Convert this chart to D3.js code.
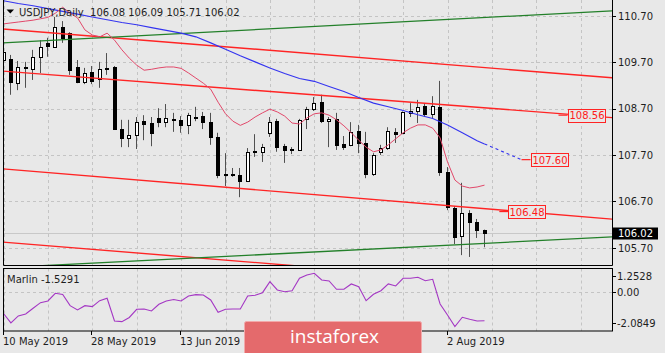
<!DOCTYPE html>
<html>
<head>
<meta charset="utf-8">
<script src="https://cdn.jsdelivr.net/npm/d3@7"></script>
<style>
  body { margin: 0; background: #e8e8e8; }
  svg { display: block; font-family: "DejaVu Sans", sans-serif; }
</style>
</head>
<body>
<div class="main-container"></div>
<script>
// USDJPY daily, 10 May 2019 - 9 Aug 2019 (bar 0 = 10 May)
const open  = [109.75,109.77,109.25,109.60,109.56,109.82,110.12,110.03,110.46,110.33,
               109.60,109.28,109.49,109.34,109.58,109.60,108.26,108.07,108.13,108.43,
               108.39,108.50,108.41,108.48,108.46,108.35,108.52,108.54,108.41,108.09,
               107.29,107.29,107.27,107.14,107.79,107.77,108.18,108.43,107.89,107.81,
               107.81,108.48,108.69,108.84,108.43,108.48,107.94,107.92,108.22,107.96,
               107.29,107.77,107.85,108.20,108.18,108.61,108.65,108.76,108.59,108.74,
               107.33,106.56,105.95,106.45,106.25,106.08];
const high  = [110.07,109.86,109.73,109.71,109.97,110.18,110.23,110.68,110.59,110.35,
               109.75,109.58,109.62,109.71,109.90,109.62,108.46,108.46,108.52,108.56,
               108.52,108.71,108.80,108.61,108.54,108.61,108.74,108.63,108.61,108.18,
               107.74,107.42,107.42,107.85,108.15,107.94,108.52,108.48,107.94,107.87,
               108.48,108.74,108.95,109.00,108.52,108.61,108.11,108.41,108.35,108.20,
               107.74,107.92,108.30,108.28,108.64,108.82,108.89,108.82,108.97,109.30,
               107.44,106.60,107.10,106.51,106.32,106.09];
const low   = [109.43,109.00,109.10,109.15,109.32,109.47,109.82,110.01,110.12,109.43,
               109.25,109.23,109.23,109.15,109.43,108.24,107.87,107.87,107.83,108.02,
               107.89,108.30,108.30,108.20,108.18,108.15,108.43,108.26,107.92,107.20,
               107.03,107.23,106.79,107.12,107.66,107.55,108.09,107.77,107.53,107.72,
               107.79,108.26,108.65,108.39,107.87,107.81,107.81,107.89,107.74,107.20,
               107.25,107.70,107.81,107.96,108.15,108.52,108.39,108.52,108.48,107.25,
               106.51,105.78,105.54,105.50,105.91,105.71];
const close = [109.92,109.28,109.60,109.58,109.82,110.03,110.05,110.46,110.23,109.53,
               109.28,109.47,109.30,109.56,109.56,108.26,108.07,108.13,108.41,108.37,
               108.18,108.41,108.50,108.47,108.35,108.56,108.51,108.41,108.09,107.27,
               107.28,107.30,107.14,107.77,107.78,107.87,108.41,107.87,107.81,107.83,
               108.46,108.69,108.82,108.43,108.48,107.92,107.87,108.20,107.96,107.29,
               107.70,107.85,108.22,108.15,108.63,108.65,108.74,108.59,108.76,107.33,
               106.58,105.93,106.45,106.25,106.08,106.02];

// fast MA (thin crimson)
const fastMa = [110.53,110.55,110.57,110.59,110.61,110.64,110.67,110.76,110.89,110.76,
                110.66,110.40,110.29,110.25,110.33,110.18,109.97,109.79,109.64,109.53,
                109.55,109.58,109.60,109.60,109.57,109.47,109.36,109.25,109.12,108.84,
                108.59,108.43,108.34,108.41,108.52,108.61,108.69,108.63,108.54,108.39,
                108.37,108.50,108.59,108.61,108.56,108.46,108.33,108.18,108.02,107.87,
                107.77,107.81,107.92,108.05,108.18,108.28,108.35,108.35,108.28,108.07,
                107.55,107.16,107.03,106.99,107.01,107.05];

// slow MA (blue), read every second bar
const slowBars = [0,2,4,6,8,10,12,14,16,18,20,22,24,26,28,30,32,34,36,38,40,42,44,46,48,50,52,54,56,58,60,62,64,65];
const slowMa   = [111.03,110.97,110.92,110.86,110.80,110.74,110.68,110.62,110.56,110.51,
                  110.45,110.39,110.33,110.25,110.12,109.98,109.84,109.71,109.58,109.46,
                  109.35,109.29,109.18,109.07,108.94,108.82,108.74,108.66,108.57,108.49,
                  108.35,108.18,108.01,107.94];
const projBars = [65, 70];
const projVals = [107.94, 107.60];

// channel lines: price at bar 0 and bar 82
const lineBars = [0, 82];
const redLines = [[110.42, 109.37], [109.51, 108.51], [107.40, 106.32], [105.82, 104.76]];
const greenLines = [[110.12, 110.81], [105.27, 105.93]];

const tagPrices = [108.56, 107.60, 106.48];
const tagBars = [75, 70, 67];
const lastPrice = 106.02;

const marlin = [-1.141,-1.652,-1.276,-1.168,-0.861,-0.560,-0.468,-0.054,-0.118,-0.721,
                -0.953,-0.721,-0.775,-0.452,-0.323,-1.545,-1.582,-1.356,-0.915,-0.899,
                -1.006,-0.646,-0.468,-0.388,-0.468,-0.199,-0.129,-0.145,-0.414,-1.076,
                -0.915,-0.899,-0.899,-0.199,-0.161,-0.022,0.571,0.124,0.032,0.086,
                0.753,0.931,1.023,0.662,0.608,0.161,0.161,0.447,0.301,-0.452,
                -0.108,0.081,0.447,0.339,0.753,0.753,0.807,0.624,0.700,-0.630,
                -1.222,-1.851,-1.346,-1.453,-1.545,-1.5291];

const priceTicks = [110.70, 109.70, 108.70, 107.70, 106.70, 105.70];
const marlinTicks = [1.2528, 0.00, -2.0849];
const marlinLabels = ["1.2528", "0.00", "-2.0849"];
// the 1 Jul / 17 Jul labels sit under the watermark and are not visible
const dateBars = [0, 12, 24, 60];
const dateLabels = ["10 May 2019", "28 May 2019", "13 Jun 2019", "2 Aug 2019"];

let width = 665, height = 353;
const L = 3, R = 612, mainBottom = 265.5, subTop = 268.5, subBottom = 331;

const x = d3.scaleLinear().domain([0, 82]).range([3.5, 3.5 + 82 * 7.4]);
const y = d3.scaleLinear().domain([105.70, 110.70]).range([247.7, 16]);
const ym = d3.scaleLinear().domain([-2.0849, 1.2528]).range([331, 269]);

const svg = d3.select(".main-container")
  .append("svg")
  .attr("width", width)
  .attr("height", height);

svg.append("rect").attr("width", width).attr("height", height).attr("fill", "#e8e8e8");

const defs = svg.append("defs");
defs.append("clipPath").attr("id", "clip-main")
  .append("rect").attr("x", L).attr("y", 0).attr("width", R - L).attr("height", mainBottom);
defs.append("clipPath").attr("id", "clip-sub")
  .append("rect").attr("x", L).attr("y", subTop).attr("width", R - L).attr("height", subBottom - subTop);

const main = svg.append("g").attr("clip-path", "url(#clip-main)");
const sub = svg.append("g").attr("clip-path", "url(#clip-sub)");

// grid
const gridBars = d3.range(0, 83, 6);
const gridStyle = sel => sel.attr("stroke", "#c4c4c4").attr("stroke-dasharray", "3,3").attr("stroke-width", 1);

main.selectAll("line.vgrid").data(gridBars).join("line")
  .attr("x1", d => Math.round(x(d)) + 0.5).attr("x2", d => Math.round(x(d)) + 0.5)
  .attr("y1", 0).attr("y2", mainBottom)
  .call(gridStyle);
main.selectAll("line.hgrid").data(priceTicks).join("line")
  .attr("x1", L).attr("x2", R)
  .attr("y1", d => Math.round(y(d)) + 0.5).attr("y2", d => Math.round(y(d)) + 0.5)
  .call(gridStyle);
sub.selectAll("line.vgrid").data(gridBars).join("line")
  .attr("x1", d => Math.round(x(d)) + 0.5).attr("x2", d => Math.round(x(d)) + 0.5)
  .attr("y1", subTop).attr("y2", subBottom)
  .call(gridStyle);
sub.append("line")
  .attr("x1", L).attr("x2", R)
  .attr("y1", Math.round(ym(0)) + 0.5).attr("y2", Math.round(ym(0)) + 0.5)
  .call(gridStyle);

// bid line
main.append("line")
  .attr("x1", L).attr("x2", R)
  .attr("y1", Math.round(y(lastPrice)) + 0.5).attr("y2", Math.round(y(lastPrice)) + 0.5)
  .attr("stroke", "#c8c8c8");

// candles
const bars = d3.range(open.length);
const candle = main.selectAll("g.candle").data(bars).join("g").attr("class", "candle");
candle.append("line")
  .attr("x1", i => Math.round(x(i)) - 0.5).attr("x2", i => Math.round(x(i)) - 0.5)
  .attr("y1", i => y(high[i])).attr("y2", i => y(low[i]))
  .attr("stroke", "#505050");
candle.append("rect")
  .attr("x", i => Math.round(x(i)) - 2 + 0.5)
  .attr("y", i => Math.round(y(Math.max(open[i], close[i]))) + 0.5)
  .attr("width", 3)
  .attr("height", i => Math.max(1, Math.round(y(Math.min(open[i], close[i]))) - Math.round(y(Math.max(open[i], close[i])))))
  .attr("fill", i => close[i] > open[i] ? "#fff" : "#000")
  .attr("stroke", "#000");

// channel lines, extended across the plot
function ray(p) {
  const f = b => p[0] + (p[1] - p[0]) * (b - lineBars[0]) / (lineBars[1] - lineBars[0]);
  return [[-2, f(-2)], [84, f(84)]];
}
const rayLine = d3.line().x(d => x(d[0])).y(d => y(d[1]));

main.selectAll("path.red").data(redLines).join("path")
  .attr("d", d => rayLine(ray(d)))
  .attr("fill", "none").attr("stroke", "#ff2424").attr("stroke-width", 1.4);
main.selectAll("path.green").data(greenLines).join("path")
  .attr("d", d => rayLine(ray(d)))
  .attr("fill", "none").attr("stroke", "#23802a").attr("stroke-width", 1.3);

// moving averages
main.append("path")
  .datum(slowBars)
  .attr("fill", "none").attr("stroke", "#3434f0").attr("stroke-width", 1.1)
  .attr("d", d3.line().x(b => x(b)).y((b, k) => y(slowMa[k])));
main.append("path")
  .datum(projBars)
  .attr("fill", "none").attr("stroke", "#3434f0").attr("stroke-width", 1.1)
  .attr("stroke-dasharray", "3,3")
  .attr("d", d3.line().x(b => x(b)).y((b, k) => y(projVals[k])));
main.append("path")
  .datum(bars)
  .attr("fill", "none").attr("stroke", "#e2486a").attr("stroke-width", 1)
  .attr("d", d3.line().x(i => x(i)).y(i => y(fastMa[i])));

// price tags
const tag = main.selectAll("g.tag").data(tagPrices).join("g").attr("class", "tag");
tag.append("line")
  .attr("x1", (d, k) => x(tagBars[k])).attr("x2", (d, k) => x(tagBars[k]) + 9)
  .attr("y1", d => y(d)).attr("y2", d => y(d))
  .attr("stroke", "#ff2424").attr("stroke-width", 1.2);
tag.append("rect")
  .attr("x", (d, k) => Math.round(x(tagBars[k]) + 9) + 0.5)
  .attr("y", d => Math.round(y(d) - 6.5) + 0.5)
  .attr("width", 37).attr("height", 13)
  .attr("fill", "#e8e8e8").attr("stroke", "#ff2424");
tag.append("text")
  .attr("x", (d, k) => Math.round(x(tagBars[k]) + 9) + 19)
  .attr("y", d => y(d) + 4.3)
  .attr("text-anchor", "middle")
  .attr("font-size", 10).attr("fill", "#ff1a1a")
  .text(d => d.toFixed(2));

// marlin
sub.append("path")
  .datum(marlin)
  .attr("fill", "none").attr("stroke", "#a437c4").attr("stroke-width", 1.1)
  .attr("d", d3.line().x((d, i) => x(i)).y(d => ym(d)));

// frames
svg.append("path")
  .attr("d", `M${L + 0.5},0 V${mainBottom} H${R + 0.5} V0`)
  .attr("fill", "none").attr("stroke", "#000");
svg.append("rect")
  .attr("x", L + 0.5).attr("y", subTop).attr("width", R - L).attr("height", subBottom - subTop)
  .attr("fill", "none").attr("stroke", "#000");

// price axis
priceTicks.forEach(p => {
  const yy = Math.round(y(p)) + 0.5;
  svg.append("line").attr("x1", R).attr("x2", R + 4).attr("y1", yy).attr("y2", yy).attr("stroke", "#000");
  svg.append("text").attr("x", 618).attr("y", y(p) + 3.8)
    .attr("font-size", 10).attr("fill", "#1e1e1e").text(p.toFixed(2));
});

// last price box
svg.append("rect")
  .attr("x", R + 1).attr("y", Math.round(y(lastPrice)) - 5.5)
  .attr("width", 45).attr("height", 12)
  .attr("fill", "#000");
svg.append("text").attr("x", 618).attr("y", y(lastPrice) + 4)
  .attr("font-size", 10).attr("fill", "#fff").text(lastPrice.toFixed(2));

// marlin axis
const mLabelY = [279.7, 296, 326.6];
marlinTicks.forEach((v, k) => {
  const yy = Math.round(mLabelY[k] - 3.8) + 0.5;
  svg.append("line").attr("x1", R).attr("x2", R + 4).attr("y1", yy).attr("y2", yy).attr("stroke", "#000");
  svg.append("text").attr("x", 617).attr("y", mLabelY[k])
    .attr("font-size", 10).attr("fill", "#1e1e1e").text(marlinLabels[k]);
});

// date axis
dateBars.forEach((b, k) => {
  const xx = Math.round(x(b)) - 0.5;
  svg.append("line").attr("x1", xx).attr("x2", xx).attr("y1", subBottom).attr("y2", subBottom + 4).attr("stroke", "#000");
  svg.append("text").attr("x", xx - 0.5).attr("y", 345)
    .attr("font-size", 10).attr("fill", "#1e1e1e").text(dateLabels[k]);
});

// titles
svg.append("path").attr("d", "M6.5,9.5 L14,9.5 L10.25,13.5 Z").attr("fill", "#000");
svg.append("text").attr("x", 19).attr("y", 15.5)
  .attr("font-size", 10).attr("fill", "#1e1e1e").style("white-space", "pre")
  .text("USDJPY,Daily  " + [open[65], high[65], low[65], close[65]].map(v => v.toFixed(2)).join(" "));
svg.append("text").attr("x", 7).attr("y", 282.5)
  .attr("font-size", 10).attr("fill", "#1e1e1e")
  .text("Marlin " + marlin[marlin.length - 1].toFixed(4));

// watermark
const wm = svg.append("g");
wm.append("rect")
  .attr("x", 244.5).attr("y", 321.5).attr("width", 177).attr("height", 40).attr("rx", 2)
  .attr("fill", "#e46a6c").attr("stroke", "#f2a9aa");
wm.append("text").attr("x", 290).attr("y", 343)
  .attr("font-family", "Open Sans").attr("font-size", 19).attr("fill", "#fff")
  .text("instaforex");
</script>
</body>
</html>
